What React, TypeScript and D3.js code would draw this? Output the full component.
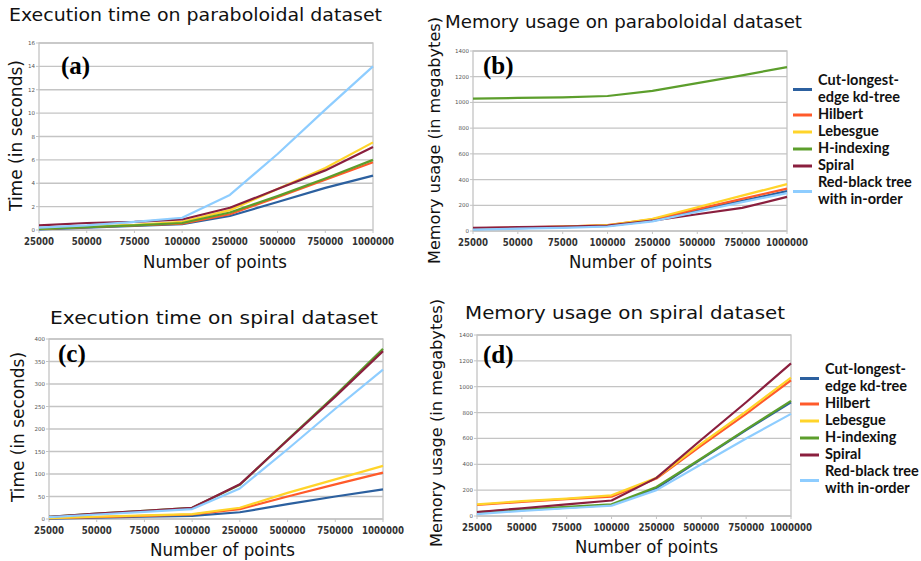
import React from "react";
import * as d3 from "d3";

const categories = ["25000", "50000", "75000", "100000", "250000", "500000", "750000", "1000000"];
const seriesNames = ["Cut-longest-edge kd-tree", "Hilbert", "Lebesgue", "H-indexing", "Spiral", "Red-black tree with in-order"];
const legendLines = [["Cut-longest-", "edge kd-tree"], ["Hilbert"], ["Lebesgue"], ["H-indexing"], ["Spiral"], ["Red-black tree", "with in-order"]];
const seriesColors = ["#2c609f", "#ff5a2a", "#ffd42a", "#5c9e2c", "#8a1f3e", "#8ecdff"];

// (a) Execution time on paraboloidal dataset (seconds)
const timeParaCut = [0.05, 0.2, 0.35, 0.5, 1.2, 2.4, 3.6, 4.65];
const timeParaHilbert = [0.1, 0.25, 0.4, 0.55, 1.35, 2.8, 4.3, 5.8];
const timeParaLebesgue = [0.1, 0.3, 0.45, 0.7, 1.7, 3.5, 5.3, 7.5];
const timeParaHindex = [0.1, 0.25, 0.4, 0.6, 1.5, 2.9, 4.4, 6.0];
const timeParaSpiral = [0.4, 0.6, 0.7, 0.9, 1.9, 3.5, 5.1, 7.1];
const timeParaRB = [0.2, 0.4, 0.7, 1.05, 3.0, 6.5, 10.3, 14.0];
const yTicksA = [0, 2, 4, 6, 8, 10, 12, 14, 16];

// (b) Memory usage on paraboloidal dataset (MB)
const memParaCut = [15, 22, 30, 40, 80, 160, 235, 310];
const memParaHilbert = [20, 28, 35, 45, 90, 170, 250, 330];
const memParaLebesgue = [15, 25, 35, 45, 95, 185, 275, 365];
const memParaHindex = [1030, 1035, 1040, 1050, 1090, 1150, 1210, 1275];
const memParaSpiral = [25, 30, 35, 42, 80, 130, 180, 265];
const memParaRB = [10, 18, 25, 35, 75, 150, 225, 295];
const yTicksB = [0, 200, 400, 600, 800, 1000, 1200, 1400];

// (c) Execution time on spiral dataset (seconds)
const timeSpirCut = [1, 3, 5, 7, 15, 33, 50, 66];
const timeSpirHilbert = [2, 4, 7, 10, 22, 50, 77, 103];
const timeSpirLebesgue = [2, 5, 8, 11, 25, 58, 88, 118];
const timeSpirHindex = [5, 12, 18, 25, 76, 176, 275, 378];
const timeSpirSpiral = [5, 12, 18, 25, 77, 175, 272, 373];
const timeSpirRB = [4, 10, 16, 22, 68, 155, 245, 332];
const yTicksC = [0, 50, 100, 150, 200, 250, 300, 350, 400];

// (d) Memory usage on spiral dataset (MB)
const memSpirCut = [25, 45, 65, 85, 215, 440, 665, 880];
const memSpirHilbert = [85, 110, 130, 150, 290, 545, 790, 1050];
const memSpirLebesgue = [90, 115, 135, 160, 295, 560, 810, 1070];
const memSpirHindex = [30, 50, 70, 90, 225, 445, 670, 890];
const memSpirSpiral = [30, 60, 90, 120, 295, 590, 880, 1180];
const memSpirRB = [15, 40, 60, 80, 200, 400, 600, 790];
const yTicksD = [0, 200, 400, 600, 800, 1000, 1200, 1400];

type Panel = {
  label: string;
  title: string;
  yTitle: string;
  box: [number, number, number, number];
  ticks: number[];
  values: number[][];
  titleX: [number, number, number];
  yTitleX: number;
  yTitleSpan: [number, number];
  yTitleSize: number;
  xTitle: [number, number, number];
  labelPos: [number, number];
  legend?: [number, number];
};

const panels: Panel[] = [
  {
    label: "(a)",
    title: "Execution time on paraboloidal dataset",
    yTitle: "Time (in seconds)",
    box: [39, 373, 43, 230],
    ticks: yTicksA,
    values: [timeParaCut, timeParaHilbert, timeParaLebesgue, timeParaHindex, timeParaSpiral, timeParaRB],
    titleX: [9, 382, 15],
    yTitleX: 16,
    yTitleSpan: [60, 211],
    yTitleSize: 17,
    xTitle: [143, 287, 262],
    labelPos: [61, 74],
  },
  {
    label: "(b)",
    title: "Memory usage on paraboloidal dataset",
    yTitle: "Memory usage (in megabytes)",
    box: [473, 787, 51, 231],
    ticks: yTicksB,
    values: [memParaCut, memParaHilbert, memParaLebesgue, memParaHindex, memParaSpiral, memParaRB],
    titleX: [445, 802, 22],
    yTitleX: 434,
    yTitleSpan: [17, 264],
    yTitleSize: 16,
    xTitle: [569, 712, 262],
    labelPos: [483, 74],
    legend: [793, 80],
  },
  {
    label: "(c)",
    title: "Execution time on spiral dataset",
    yTitle: "Time (in seconds)",
    box: [49, 383, 339, 519],
    ticks: yTicksC,
    values: [timeSpirCut, timeSpirHilbert, timeSpirLebesgue, timeSpirHindex, timeSpirSpiral, timeSpirRB],
    titleX: [50, 378, 318],
    yTitleX: 18,
    yTitleSpan: [352, 502],
    yTitleSize: 17,
    xTitle: [150, 295, 550],
    labelPos: [58, 362],
  },
  {
    label: "(d)",
    title: "Memory usage on spiral dataset",
    yTitle: "Memory usage (in megabytes)",
    box: [477, 791, 335, 516],
    ticks: yTicksD,
    values: [memSpirCut, memSpirHilbert, memSpirLebesgue, memSpirHindex, memSpirSpiral, memSpirRB],
    titleX: [465, 785, 313],
    yTitleX: 436,
    yTitleSpan: [299, 547],
    yTitleSize: 16,
    xTitle: [575, 718, 547],
    labelPos: [483, 363],
    legend: [800, 369],
  },
];

const sans = "'DejaVu Sans', Verdana, sans-serif";

function ChartPanel({ p }: { p: Panel }) {
  const [l, r, t, b] = p.box;
  const x = d3.scalePoint<string>().domain(categories).range([l, r]);
  const y = d3.scaleLinear().domain([0, p.ticks[p.ticks.length - 1]]).range([b, t]);
  const line = d3
    .line<number>()
    .x((_, i) => x(categories[i]) as number)
    .y((v) => y(v));
  const yTitleMid = (p.yTitleSpan[0] + p.yTitleSpan[1]) / 2;
  const yTitleLen = p.yTitleSpan[1] - p.yTitleSpan[0];
  return (
    <g>
      <text
        x={(p.titleX[0] + p.titleX[1]) / 2}
        y={p.titleX[2] + 6}
        textAnchor="middle"
        fontFamily={sans}
        fontSize={18}
        fill="#111"
        textLength={p.titleX[1] - p.titleX[0]}
        lengthAdjust="spacingAndGlyphs"
      >
        {p.title}
      </text>
      {p.ticks.map((tk) => (
        <g key={tk}>
          <line x1={l} x2={r} y1={y(tk)} y2={y(tk)} stroke="#c4c4c4" strokeWidth={1.3} />
          <line x1={l - 3} x2={l} y1={y(tk)} y2={y(tk)} stroke="#c4c4c4" strokeWidth={1} />
          <text x={l - 4} y={y(tk) + 2} textAnchor="end" fontFamily={sans} fontSize={5.5} fill="#555">
            {tk}
          </text>
        </g>
      ))}
      <rect x={l} y={t} width={r - l} height={b - t} fill="none" stroke="#c4c4c4" strokeWidth={1.3} />
      {categories.map((c) => (
        <g key={c}>
          <line x1={x(c)} x2={x(c)} y1={b} y2={b + 3} stroke="#c4c4c4" strokeWidth={1} />
          <text
            x={x(c)}
            y={b + 15}
            textAnchor="middle"
            fontFamily={sans}
            fontSize={10}
            fontWeight={600}
            fill="#333"
            textLength={c.length * 6}
            lengthAdjust="spacingAndGlyphs"
          >
            {c}
          </text>
        </g>
      ))}
      {p.values.map((vals, i) => (
        <path key={i} d={line(vals) || ""} fill="none" stroke={seriesColors[i]} strokeWidth={2.2} strokeLinejoin="round" />
      ))}
      <text
        x={(p.xTitle[0] + p.xTitle[1]) / 2}
        y={p.xTitle[2] + 6}
        textAnchor="middle"
        fontFamily={sans}
        fontSize={17}
        fill="#111"
        textLength={p.xTitle[1] - p.xTitle[0]}
        lengthAdjust="spacingAndGlyphs"
      >
        Number of points
      </text>
      <text
        transform={`translate(${p.yTitleX + 6},${yTitleMid}) rotate(-90)`}
        textAnchor="middle"
        fontFamily={sans}
        fontSize={p.yTitleSize}
        fill="#111"
        textLength={yTitleLen}
        lengthAdjust="spacingAndGlyphs"
      >
        {p.yTitle}
      </text>
      <text
        x={p.labelPos[0]}
        y={p.labelPos[1]}
        fontFamily="'Liberation Serif', 'Times New Roman', serif"
        fontWeight="bold"
        fontSize={25}
        fill="#000"
      >
        {p.label}
      </text>
      {p.legend && <Legend x0={p.legend[0]} y0={p.legend[1]} />}
    </g>
  );
}

function Legend({ x0, y0 }: { x0: number; y0: number }) {
  const lh = 17;
  let row = 0;
  return (
    <g>
      {legendLines.map((lines, i) => {
        const start = row;
        row += lines.length;
        const lineY = y0 + start * lh + ((lines.length - 1) * lh) / 2 + 1;
        return (
          <g key={seriesNames[i]}>
            <line x1={x0} x2={x0 + 19} y1={lineY} y2={lineY} stroke={seriesColors[i]} strokeWidth={3} />
            {lines.map((s, j) => (
              <text
                key={j}
                x={x0 + 25}
                y={y0 + (start + j) * lh + 5}
                fontFamily="Lato, 'Open Sans', sans-serif"
                fontWeight={700}
                fontSize={14.5}
                fill="#111"
              >
                {s}
              </text>
            ))}
          </g>
        );
      })}
    </g>
  );
}

export default function App() {
  return (
    <svg
      width={921}
      height={561}
      viewBox="0 0 921 561"
      style={{ position: "absolute", left: 0, top: 0, background: "#fff" }}
    >
      <rect width={921} height={561} fill="#fff" />
      {panels.map((p) => (
        <ChartPanel key={p.label} p={p} />
      ))}
    </svg>
  );
}
